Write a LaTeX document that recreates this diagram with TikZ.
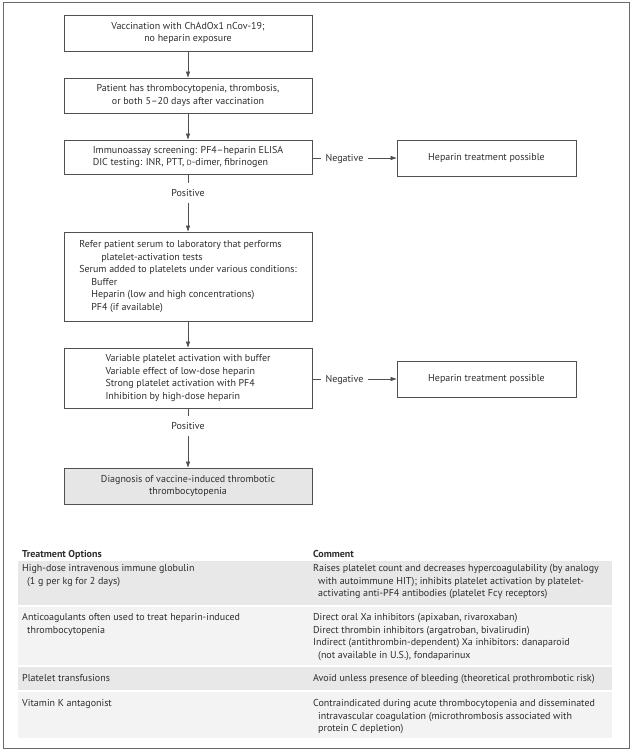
\documentclass[tikz,border=0pt]{standalone}
\usepackage{fontspec}
\setmainfont{PT Sans}
\newfontfamily\grkfont{Open Sans}
\usetikzlibrary{arrows.meta}
\definecolor{ln}{HTML}{505050}
\definecolor{tx}{HTML}{2E2E2E}
\definecolor{fr}{HTML}{6A6A6A}
\definecolor{bandA}{HTML}{E8E8E8}
\definecolor{bandB}{HTML}{F3F3F3}
\definecolor{dfill}{HTML}{E6E6E6}
\newcommand{\smD}{{\fontsize{7.5}{9}\selectfont D}}
\begin{document}
\begin{tikzpicture}[x=1pt,y=-1pt,font=\fontsize{10}{12.5}\selectfont,
  box/.style={draw=ln,line width=0.9pt,minimum width=248pt,inner sep=0pt,text=tx,align=center},
  rbox/.style={box,minimum width=179pt,minimum height=36pt},
  lab/.style={text=tx,inner xsep=4pt,inner ysep=0pt,text height=7pt,text depth=0pt},
  vlab/.style={lab,minimum height=19pt},
  arr/.style={draw=ln,line width=0.8pt,-{Triangle[length=6pt,width=4pt]}},
  conn/.style={draw=ln,line width=0.8pt},
  cell/.style={anchor=base west,inner sep=0pt,text=tx},
  head/.style={cell,font=\fontsize{10}{12.5}\selectfont\bfseries}]
\useasboundingbox (0,0) rectangle (632,752);
\draw[fr,line width=1pt] (3,3) rectangle (629,748);

% flowchart
\node[box,minimum height=36pt] (b1) at (188,33) {Vaccination with ChAdOx1 nCov-19;\\no heparin exposure};
\node[box,minimum height=35pt] (b2) at (188,95.5) {Patient has thrombocytopenia, thrombosis,\\or both 5–20 days after vaccination};
\node[box,minimum height=34pt] (b3) at (188,157) {\begin{tabular}{@{}l@{}}Immunoassay screening: PF4–heparin ELISA\\DIC testing: INR, PTT, \smD-dimer, fibrinogen\end{tabular}};
\node[rbox] (n1) at (486.5,158) {Heparin treatment possible};
\node[lab] (neg1) at (344.5,158) {Negative};
\node[vlab] (pos1) at (188,193) {Positive};
\node[box,minimum height=89pt] (b4) at (188,276.5) {\begin{tabular}{@{}l@{}}Refer patient serum to laboratory that performs\\\hspace{22pt}platelet-activation tests\\Serum added to platelets under various conditions:\\\hspace{12pt}Buffer\\\hspace{12pt}Heparin (low and high concentrations)\\\hspace{12pt}PF4 (if available)\end{tabular}};
\node[box,minimum height=60pt] (b5) at (188,378) {\begin{tabular}{@{}l@{}}Variable platelet activation with buffer\\Variable effect of low-dose heparin\\Strong platelet activation with PF4\\Inhibition by high-dose heparin\end{tabular}};
\node[rbox] (n2) at (486.5,379) {Heparin treatment possible};
\node[lab] (neg2) at (344.5,379) {Negative};
\node[vlab] (pos2) at (188,426) {Positive};
\node[box,fill=dfill,minimum height=36pt] (b6) at (188,486) {Diagnosis of vaccine-induced thrombotic\\thrombocytopenia};

\draw[arr] (b1) -- (b2);
\draw[arr] (b2) -- (b3);
\draw[conn] (b3.east |- neg1.west) -- (neg1.west);
\draw[arr] (neg1.east) -- (n1.west);
\draw[conn] (b3) -- (pos1);
\draw[arr] (pos1) -- (b4);
\draw[arr] (b4) -- (b5);
\draw[conn] (b5.east |- neg2.west) -- (neg2.west);
\draw[arr] (neg2.east) -- (n2.west);
\draw[conn] (b5) -- (pos2);
\draw[arr] (pos2) -- (b6);

% table
\fill[bandA] (18,561) rectangle (612,605);
\fill[bandB] (18,607) rectangle (612,665);
\fill[bandA] (18,667) rectangle (612,690);
\fill[bandB] (18,692) rectangle (612,738);

\node[head] (h1) at (22,557) {Treatment Options};
\node[head] (h2) at (313,557) {Comment};

\node[cell] (c11) at (22,571.5) {\begin{tabular}[t]{@{}l@{}}High-dose intravenous immune globulin\\\hspace{5pt}(1 g per kg for 2 days)\end{tabular}};
\node[cell] (c12) at (313,571.5) {\begin{tabular}[t]{@{}l@{}}Raises platelet count and decreases hypercoagulability (by analogy\\\hspace{5pt}with autoimmune HIT); inhibits platelet activation by platelet-\\\hspace{5pt}activating anti-PF4 antibodies (platelet Fc{\grkfont γ} receptors)\end{tabular}};

\node[cell] (c21) at (22,620.5) {\begin{tabular}[t]{@{}l@{}}Anticoagulants often used to treat heparin-induced\\\hspace{5pt}thrombocytopenia\end{tabular}};
\node[cell] (c22) at (313,620.5) {\begin{tabular}[t]{@{}l@{}}Direct oral Xa inhibitors (apixaban, rivaroxaban)\\Direct thrombin inhibitors (argatroban, bivalirudin)\\Indirect (antithrombin-dependent) Xa inhibitors: danaparoid\\\hspace{5pt}(not available in U.S.), fondaparinux\end{tabular}};

\node[cell] (c31) at (22,681) {Platelet transfusions};
\node[cell] (c32) at (313,681) {Avoid unless presence of bleeding (theoretical prothrombotic risk)};

\node[cell] (c41) at (22,706.5) {Vitamin K antagonist};
\node[cell] (c42) at (313,706.5) {\begin{tabular}[t]{@{}l@{}}Contraindicated during acute thrombocytopenia and disseminated\\\hspace{5pt}intravascular coagulation (microthrombosis associated with\\\hspace{5pt}protein C depletion)\end{tabular}};
\end{tikzpicture}
\end{document}
